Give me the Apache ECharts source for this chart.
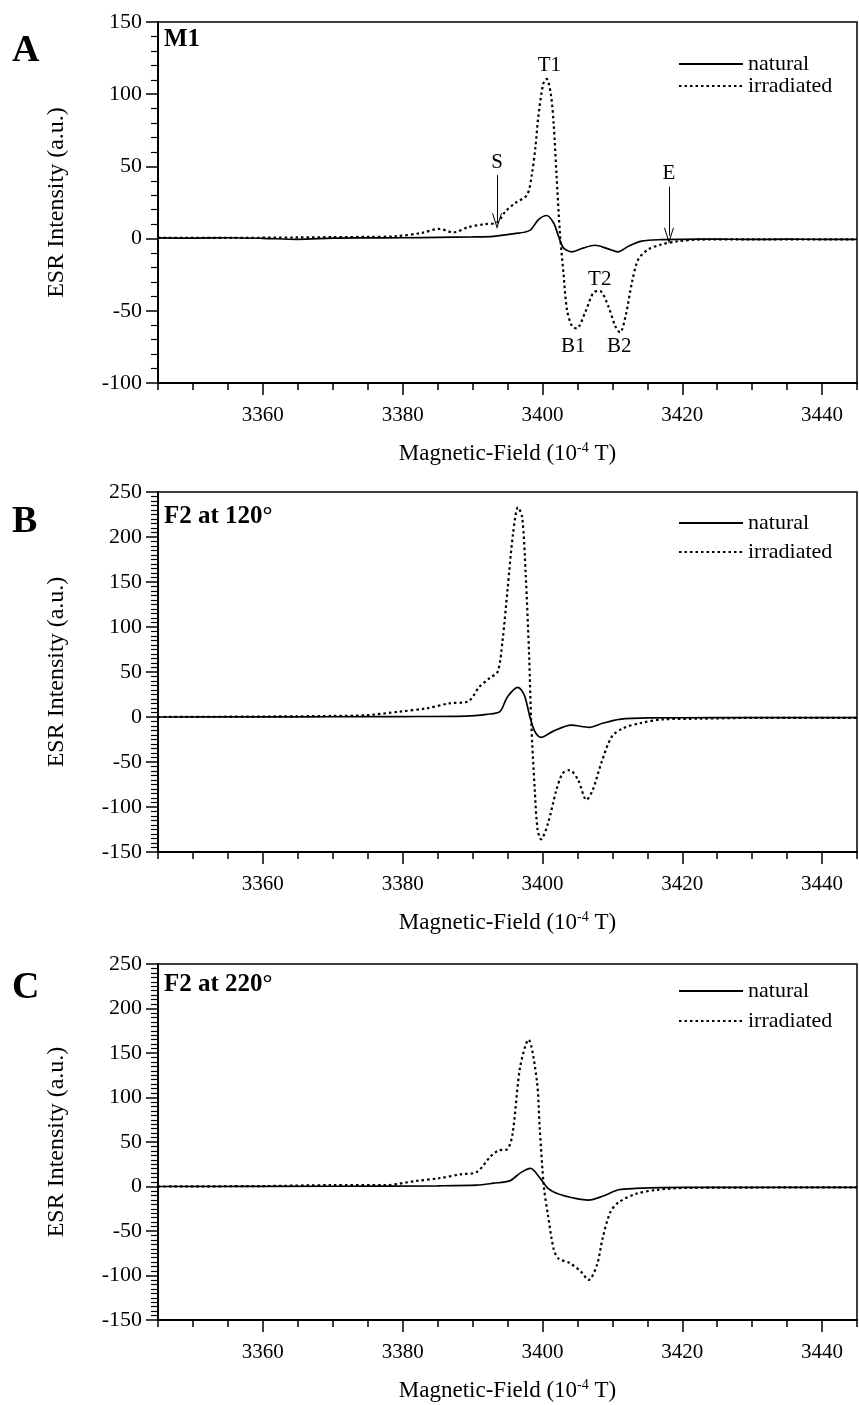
<!DOCTYPE html>
<html>
<head>
<meta charset="utf-8">
<script src="https://cdn.jsdelivr.net/npm/echarts@6/dist/echarts.min.js"></script>
<style>
html,body{margin:0;padding:0;background:#fff;}
#chart{width:859px;height:1405px;}
</style>
</head>
<body>
<div id="chart"></div>
<script>
// ---------- data ----------
var panelLetters = ['A', 'B', 'C'];
var panelTitles = ['M1', 'F2 at 120°', 'F2 at 220°'];
var seriesNames = ['natural', 'irradiated'];
var xMajorTicks = [3360, 3380, 3400, 3420, 3440];

// Panel A (M1)
var naturalA = [[3345,0.5],[3350,0.3],[3355,0.6],[3360,0.2],[3365,-0.5],[3370,0.3],[3375,0.5],[3380,0.6],[3385,0.9],[3390,1.2],[3393,1.6],[3396,3.4],[3398.2,5.7],[3399.4,13],[3400.6,16],[3401.6,10.8],[3402.3,1.6],[3403,-6.4],[3404.2,-9.2],[3405.9,-6.4],[3407.5,-4.6],[3409.4,-7.1],[3410.8,-9.2],[3412.3,-5.3],[3414.2,-1.8],[3417,-0.7],[3420,-0.5],[3425,-0.3],[3430,-0.6],[3435,-0.4],[3440,-0.5],[3445,-0.5]];
var irradiatedA = [[3345,0.5],[3355,0.5],[3365,0.8],[3370,1],[3375,1.2],[3379,1.6],[3382.8,4],[3385.2,6.7],[3387.3,4.3],[3389.4,8],[3391.8,10],[3393.5,11.2],[3394.7,18.8],[3396.1,24.6],[3397.8,30.3],[3398.5,45],[3399,63.6],[3399.4,84],[3400.1,107],[3400.6,110.6],[3401.2,100],[3401.6,79.7],[3402,45],[3402.5,3.9],[3403,-23.6],[3403.5,-49],[3404.2,-60.4],[3404.9,-62.2],[3406.1,-51.2],[3407.3,-37.4],[3408.2,-36.3],[3409.4,-46.6],[3410.4,-60.4],[3411.1,-65],[3411.9,-53.5],[3412.8,-30.5],[3413.7,-14.5],[3415.1,-7.6],[3417,-4.1],[3419.4,-1.8],[3422.3,-0.7],[3430,-0.5],[3445,-0.5]];

// Panel B (F2 at 120)
var naturalB = [[3345,0],[3360,0.2],[3370,0.3],[3380,0.5],[3389,1],[3392,3],[3393.9,5.9],[3395,22.6],[3396.5,33],[3397.4,24.4],[3398.2,0.4],[3398.9,-16],[3399.8,-22.6],[3401.5,-16],[3404.1,-9],[3406.7,-11.5],[3408.6,-7],[3411,-2.6],[3415.2,-1],[3425,-0.8],[3445,-0.8]];
var irradiatedB = [[3345,0],[3360,0.5],[3365,0.8],[3370,1.2],[3374.8,2],[3379.5,5.9],[3383.4,9.6],[3386.7,15.2],[3389.3,17],[3391,33.7],[3392.4,43],[3393.6,50.4],[3394.3,85.6],[3395,141],[3395.8,204],[3396.5,233],[3397.1,222],[3397.6,159],[3398.1,67],[3398.4,-7],[3398.9,-81],[3399.3,-125],[3399.8,-136],[3400.8,-118],[3402,-81],[3402.9,-62.6],[3403.9,-59],[3405.1,-70],[3406.3,-92],[3407.2,-81],[3408.4,-51.5],[3409.9,-22],[3411.5,-12.6],[3413.9,-7],[3417.3,-2.6],[3422.5,-1.9],[3430,-1],[3445,-1]];

// Panel C (F2 at 220)
var naturalC = [[3345,0],[3370,0.3],[3385,0.8],[3390.6,1.5],[3393,3.7],[3395.3,6.3],[3396.9,15.6],[3398.3,20.4],[3399.6,10],[3400.8,-2.2],[3402.3,-8.5],[3404.7,-13.3],[3406.6,-15.2],[3408.6,-11],[3410.9,-3.7],[3413.3,-2.2],[3420,-1],[3445,-1]];
var irradiatedC = [[3345,0],[3360,0.5],[3370,1.5],[3377.4,1.5],[3382,6.3],[3385.2,9.3],[3388.3,13.7],[3390.6,16.3],[3392.6,34],[3393.8,40.7],[3394.9,41.5],[3395.7,58],[3396.8,134],[3398,165],[3399.2,119],[3399.6,67],[3400.2,0],[3400.8,-32.6],[3401.6,-70],[3402.3,-81],[3403.9,-86],[3405.5,-95.6],[3406.6,-105],[3407.8,-88],[3408.6,-58.5],[3409.7,-29],[3410.9,-17.8],[3413.3,-8.5],[3416.4,-3.7],[3421,-1.5],[3445,-1]];

// Annotations in panel A
var annotText = ['S', 'E', 'T1', 'T2', 'B1', 'B2'];
var annotX = [3393.5, 3418.1, 3401.0, 3408.2, 3404.4, 3411.0];
var annotY = [53, 45, 120, -28, -75, -75];
var arrowX = [3393.5, 3418.1];
var arrowTop = [44, 36];
var arrowTip = [12, 2];

// y ranges
var yMin = [-100, -150, -150];
var yMax = [150, 250, 250];
var yMinorSplit = [5, 10, 10];

// ---------- chart ----------
var FONT = '"Liberation Serif", "Times New Roman", serif';
var naturalData = [naturalA, naturalB, naturalC];
var irradiatedData = [irradiatedA, irradiatedB, irradiatedC];

var gridTops = [22, 492, 964];
var gridHeights = [361, 360, 358];
var letterY = [51, 522, 988];
var titleY = [40, 517, 985];
var legendTops = [48, 507, 975];
var legendGaps = [0, 7, 8];

var grids = [], xAxes = [], yAxes = [], series = [], legends = [], graphics = [];

for (var i = 0; i < 3; i++) {
  grids.push({left: 158, width: 699, top: gridTops[i], height: gridHeights[i],
    show: true, borderColor: '#000', borderWidth: 1.5, backgroundColor: 'transparent'});
  // minor ticks axis
  xAxes.push({type: 'value', gridIndex: i, min: 3345, max: 3445, interval: 5, position: 'bottom',
    axisLine: {show: true, onZero: false, lineStyle: {color: '#000', width: 2}},
    axisTick: {show: true, length: 7, lineStyle: {color: '#000', width: 1.5}},
    axisLabel: {show: false}, splitLine: {show: false}});
  // major ticks + labels axis
  xAxes.push({type: 'value', gridIndex: i, min: 3345, max: 3445, position: 'bottom',
    axisLine: {show: false, onZero: false},
    axisTick: {show: true, customValues: xMajorTicks, length: 12, lineStyle: {color: '#000', width: 1.5}},
    axisLabel: {show: true, customValues: xMajorTicks, color: '#000', fontSize: 21, fontFamily: FONT, margin: 22,
      formatter: function (v) { return String(v); }},
    splitLine: {show: false},
    name: 'Magnetic-Field (10{s|-4} T)', nameLocation: 'middle', nameGap: 58,
    nameTextStyle: {color: '#000', fontSize: 23, fontFamily: FONT, lineHeight: 26,
      rich: {s: {fontSize: 14, lineHeight: 14, fontFamily: FONT, color: '#000', verticalAlign: 'top'}}}});
  yAxes.push({type: 'value', gridIndex: i, min: yMin[i], max: yMax[i], interval: 50,
    axisLine: {show: true, onZero: false, lineStyle: {color: '#000', width: 2}},
    axisTick: {show: true, length: 12, lineStyle: {color: '#000', width: 1.5}},
    minorTick: {show: true, splitNumber: yMinorSplit[i], length: 7, lineStyle: {color: '#000', width: 1.2}},
    axisLabel: {color: '#000', fontSize: 22, fontFamily: FONT, margin: 16},
    splitLine: {show: false},
    name: 'ESR Intensity (a.u.)', nameLocation: 'middle', nameGap: 89, nameRotate: 90,
    nameTextStyle: {color: '#000', fontSize: 24, fontFamily: FONT}});

  var natSeries = {name: 'natural', type: 'line', xAxisIndex: 2 * i, yAxisIndex: i,
    data: naturalData[i], showSymbol: false, symbol: 'none', smooth: 0.3,
    lineStyle: {color: '#000', width: 1.7, type: 'solid'}, itemStyle: {color: '#000'}, z: 3};
  var irrSeries = {name: 'irradiated', type: 'line', xAxisIndex: 2 * i, yAxisIndex: i,
    data: irradiatedData[i], showSymbol: false, symbol: 'none', smooth: 0.3,
    lineStyle: {color: '#000', width: 2.2, type: [2.5, 3]}, itemStyle: {color: '#000'}, z: 2};
  if (i === 0) {
    irrSeries.markLine = {silent: true, animation: false,
      symbol: ['none', 'path://M0,14 L5,0 L10,14 L9,14 L5,3 L1,14 Z'], symbolSize: [10, 16],
      label: {show: false},
      lineStyle: {color: '#000', width: 1, type: 'solid'},
      data: arrowX.map(function (x, k) { return [{coord: [x, arrowTop[k]]}, {coord: [x, arrowTip[k]]}]; })};
  }
  series.push(natSeries, irrSeries);

  legends.push({orient: 'vertical', left: 673, top: legendTops[i], itemWidth: 64, itemHeight: 14,
    itemGap: legendGaps[i], data: seriesNames, selectedMode: false,
    itemStyle: {opacity: 0},
    textStyle: {color: '#000', fontSize: 22, fontFamily: FONT}});

  graphics.push({type: 'text', x: 12, y: letterY[i],
    style: {text: panelLetters[i], fontSize: 38, fontWeight: 'bold', fontFamily: FONT, fill: '#000', verticalAlign: 'middle'}});
  graphics.push({type: 'text', x: 164, y: titleY[i],
    style: {text: panelTitles[i], fontSize: 25, fontWeight: 'bold', fontFamily: FONT, fill: '#000', verticalAlign: 'middle'}});
}

// annotation labels in panel A
series.push({type: 'scatter', xAxisIndex: 0, yAxisIndex: 0, silent: true,
  data: annotX.map(function (x, k) { return [x, annotY[k]]; }),
  symbolSize: 0, itemStyle: {color: '#000'},
  label: {show: true, position: 'inside', color: '#000', fontSize: 21, fontFamily: FONT,
    textBorderWidth: 0, opacity: 1,
    formatter: function (p) { return annotText[p.dataIndex]; }}, z: 5});

var chart = echarts.init(document.getElementById('chart'), null, {renderer: 'canvas'});
chart.setOption({
  animation: false,
  backgroundColor: '#fff',
  grid: grids, xAxis: xAxes, yAxis: yAxes, series: series, legend: legends, graphic: graphics
});
</script>
</body>
</html>
